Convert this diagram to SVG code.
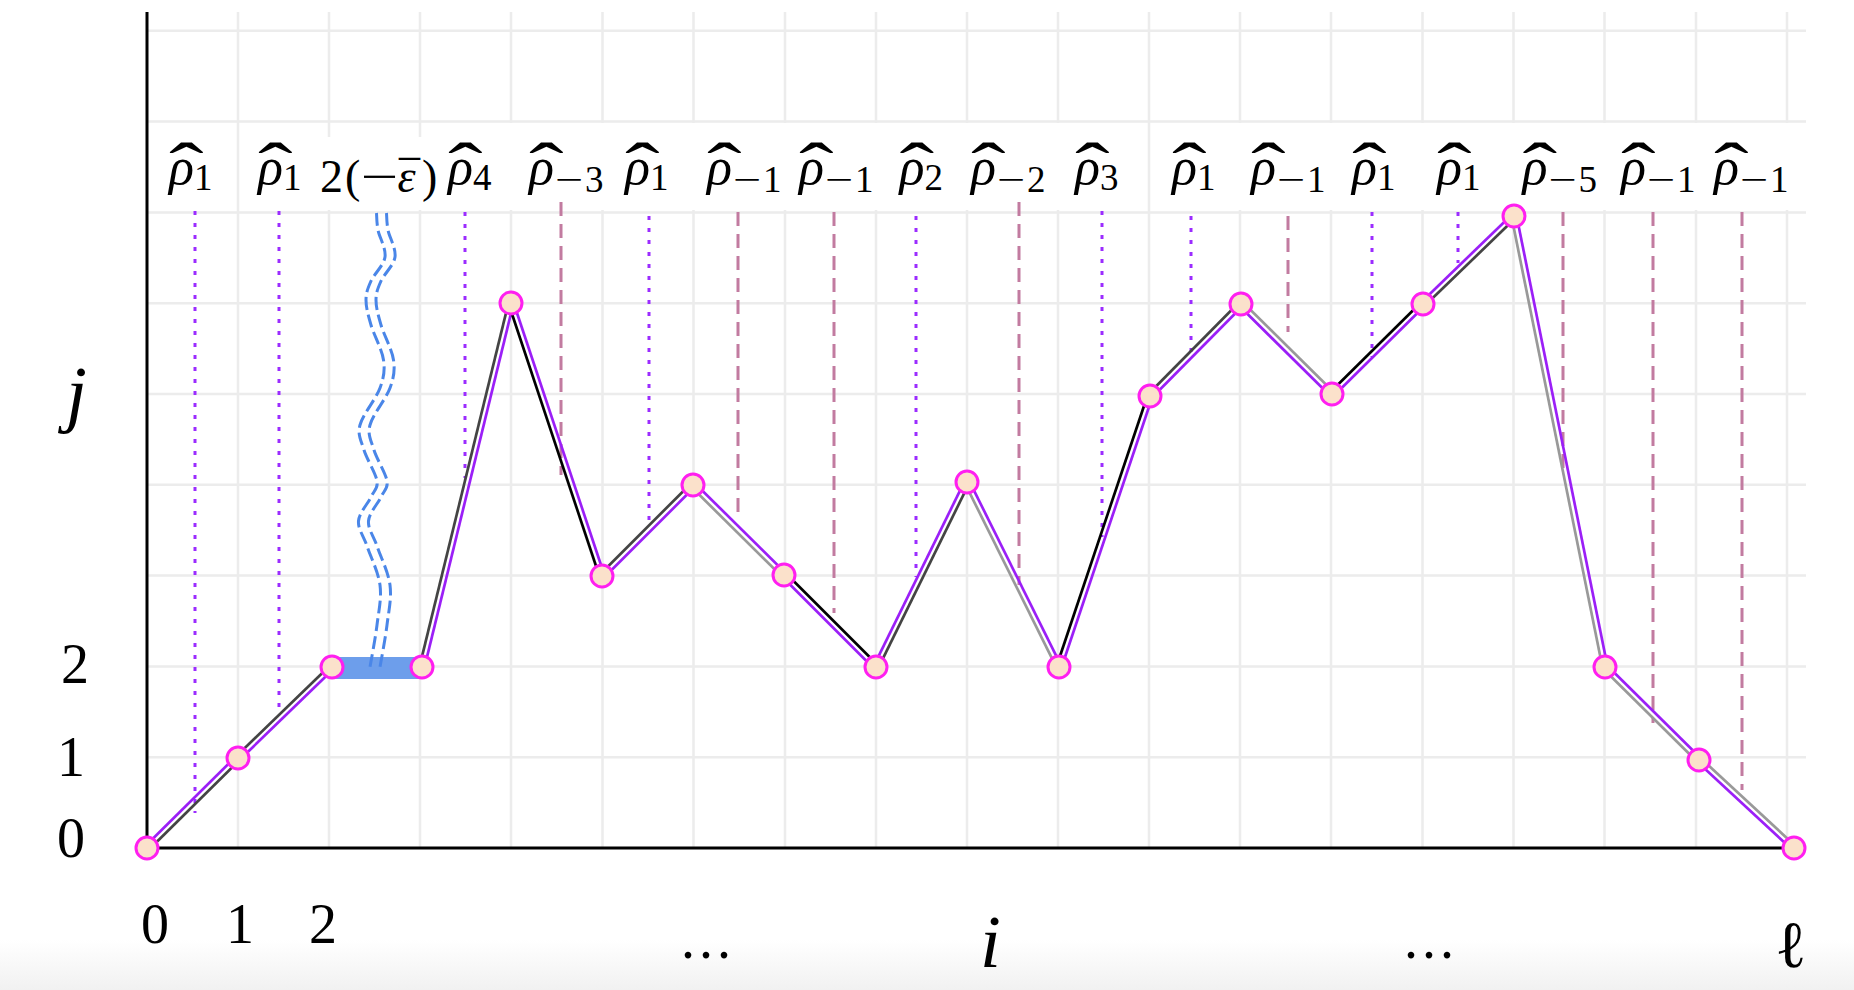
<svg xmlns="http://www.w3.org/2000/svg" width="1854" height="990" viewBox="0 0 1854 990">
<defs>
<style>
.grid{stroke:#ececec;stroke-width:2.5;fill:none}
.axis{stroke:#000;stroke-width:3;fill:none}
.pos{stroke:#9b2cff;stroke-width:3;stroke-dasharray:4 8;fill:none}
.neg{stroke:#c27ba0;stroke-width:3;stroke-dasharray:14 8;fill:none}
.wave{fill:none;stroke:#4a86e8;stroke-width:3;stroke-dasharray:13 5}
.pp{stroke:#9b1ff7;stroke-width:2.7;fill:none}
.dk{stroke:#444;stroke-width:2.7;fill:none}
.bk{stroke:#000;stroke-width:2.7;fill:none}
.gy{stroke:#999;stroke-width:2.7;fill:none}
.node{fill:#fbe1cb;stroke:#ff1ff0;stroke-width:3}
.t{font-family:"Liberation Serif","DejaVu Serif",serif;fill:#000}
.it{font-style:italic}
.rho{font-family:"Liberation Serif","DejaVu Serif",serif;font-style:italic;font-size:52px;fill:#000}
.hat{font-style:normal;font-size:70px}
.sub{font-style:normal;font-size:37px}
.tick{font-family:"Liberation Serif","DejaVu Serif",serif;font-size:56px;fill:#000;text-anchor:middle}
</style>
<linearGradient id="fade" x1="0" y1="0" x2="0" y2="1">
<stop offset="0" stop-color="#ffffff"/>
<stop offset="1" stop-color="#f1f1f1"/>
</linearGradient>
</defs>
<rect x="0" y="0" width="1854" height="990" fill="#fff"/>
<rect x="0" y="940" width="1854" height="50" fill="url(#fade)"/>

<g id="grid">
<path class="grid" d="M147,757.2H1806 M147,666.4H1806 M147,575.6H1806 M147,484.8H1806 M147,394H1806 M147,303.2H1806 M147,212.4H1806 M147,121.6H1806 M147,30.8H1806"/>
<path class="grid" d="M238,12V848 M1149,12V848
M329,12V137 M329,210V848 M420,12V137 M420,210V848
M511,12V123 M511,210V848 M602.5,12V123 M602.5,210V848 M693.5,12V123 M693.5,210V848
M785,12V123 M785,210V848 M876,12V123 M876,210V848 M967,12V123 M967,210V848
M1058,12V123 M1058,210V848 M1240,12V123 M1240,210V848 M1331,12V123 M1331,210V848
M1422.5,12V123 M1422.5,210V848 M1513.5,12V123 M1513.5,210V848 M1604.5,12V123 M1604.5,210V848
M1696,12V123 M1696,210V848 M1787,12V123 M1787,210V848"/>
</g>

<g id="axes">
<line class="axis" x1="147" y1="12" x2="147" y2="849.5"/>
<line class="axis" x1="145.5" y1="848" x2="1794" y2="848"/>
</g>

<g id="guides">
<line class="pos" x1="195" y1="211" x2="195" y2="813"/>
<line class="pos" x1="279" y1="211" x2="279" y2="713"/>
<line class="pos" x1="465" y1="212" x2="465" y2="478"/>
<line class="neg" x1="561" y1="202" x2="561" y2="475"/>
<line class="pos" x1="649" y1="216" x2="649" y2="527"/>
<line class="neg" x1="738" y1="212" x2="738" y2="517"/>
<line class="neg" x1="834" y1="212" x2="834" y2="613"/>
<line class="pos" x1="916" y1="216" x2="916" y2="577"/>
<line class="neg" x1="1019" y1="202" x2="1019" y2="585"/>
<line class="pos" x1="1102" y1="211" x2="1102" y2="537"/>
<line class="pos" x1="1191" y1="216" x2="1191" y2="358"/>
<line class="neg" x1="1288" y1="216" x2="1288" y2="332"/>
<line class="pos" x1="1372" y1="212" x2="1372" y2="357"/>
<line class="pos" x1="1458" y1="212" x2="1458" y2="263"/>
<line class="neg" x1="1563" y1="212" x2="1563" y2="475"/>
<line class="neg" x1="1653" y1="212" x2="1653" y2="723"/>
<line class="neg" x1="1742" y1="212" x2="1742" y2="790"/>
</g>

<g id="connectors">
<rect id="bar-2-3" x="332" y="657" width="90" height="22" fill="#6d9eeb"/>
<g id="wavy">
<path id="wave1" class="wave" d="M376.5,213 C376.75,215.8 376.6,222.7 378,230 C379.4,237.3 386.2,248.5 385,257 C383.8,265.5 374.2,273.8 371,281 C367.8,288.2 366,292.7 366,300 C366,307.3 368.1,315 371,325 C373.9,335 382,349.5 383.5,360 C385,370.5 383.9,377.2 380,388 C376.1,398.8 362.7,414.7 360,425 C357.3,435.3 361.2,440.7 364,450 C366.8,459.3 375.8,473.2 377,481 C378.2,488.8 374.1,490.3 371,497 C367.9,503.7 359.2,512.8 358.5,521 C357.8,529.2 363.4,535.3 367,546 C370.6,556.7 378.3,571.8 380,585 C381.7,598.2 378.7,611.3 377,625 C375.3,638.7 371.2,660 370,667"/>
<path id="wave2" class="wave" transform="translate(10,0)" d="M376.5,213 C376.75,215.8 376.6,222.7 378,230 C379.4,237.3 386.2,248.5 385,257 C383.8,265.5 374.2,273.8 371,281 C367.8,288.2 366,292.7 366,300 C366,307.3 368.1,315 371,325 C373.9,335 382,349.5 383.5,360 C385,370.5 383.9,377.2 380,388 C376.1,398.8 362.7,414.7 360,425 C357.3,435.3 361.2,440.7 364,450 C366.8,459.3 375.8,473.2 377,481 C378.2,488.8 374.1,490.3 371,497 C367.9,503.7 359.2,512.8 358.5,521 C357.8,529.2 363.4,535.3 367,546 C370.6,556.7 378.3,571.8 380,585 C381.7,598.2 378.7,611.3 377,625 C375.3,638.7 371.2,660 370,667"/>
</g>
<line class="dk" x1="148.8" y1="849.8" x2="239.8" y2="759.8"/>
<line class="pp" x1="145.2" y1="846.2" x2="236.2" y2="756.2"/>
<line class="dk" x1="236.3" y1="756.2" x2="330.3" y2="665.2"/>
<line class="pp" x1="239.7" y1="759.8" x2="333.7" y2="668.8"/>
<line class="dk" x1="419.6" y1="666.4" x2="508.6" y2="302.4"/>
<line class="pp" x1="424.4" y1="667.6" x2="513.4" y2="303.6"/>
<line class="bk" x1="508.6" y1="303.8" x2="599.6" y2="576.8"/>
<line class="pp" x1="513.4" y1="302.2" x2="604.4" y2="575.2"/>
<line class="dk" x1="600.2" y1="574.2" x2="691.2" y2="483.2"/>
<line class="pp" x1="603.8" y1="577.8" x2="694.8" y2="486.8"/>
<line class="pp" x1="694.8" y1="483.2" x2="785.8" y2="573.2"/>
<line class="gy" x1="691.2" y1="486.8" x2="782.2" y2="576.8"/>
<line class="bk" x1="785.8" y1="573.2" x2="877.8" y2="665.2"/>
<line class="pp" x1="782.2" y1="576.8" x2="874.2" y2="668.8"/>
<line class="pp" x1="873.8" y1="665.9" x2="964.8" y2="480.9"/>
<line class="dk" x1="878.2" y1="668.1" x2="969.2" y2="483.1"/>
<line class="gy" x1="964.8" y1="483.1" x2="1056.8" y2="668.1"/>
<line class="pp" x1="969.2" y1="480.9" x2="1061.2" y2="665.9"/>
<line class="bk" x1="1056.6" y1="666.2" x2="1147.6" y2="395.2"/>
<line class="pp" x1="1061.4" y1="667.8" x2="1152.4" y2="396.8"/>
<line class="dk" x1="1148.2" y1="394.2" x2="1239.2" y2="302.2"/>
<line class="pp" x1="1151.8" y1="397.8" x2="1242.8" y2="305.8"/>
<line class="gy" x1="1242.8" y1="302.2" x2="1333.8" y2="392.2"/>
<line class="pp" x1="1239.2" y1="305.8" x2="1330.2" y2="395.8"/>
<line class="bk" x1="1330.2" y1="392.2" x2="1421.2" y2="302.2"/>
<line class="pp" x1="1333.8" y1="395.8" x2="1424.8" y2="305.8"/>
<line class="pp" x1="1421.3" y1="302.2" x2="1512.3" y2="214.2"/>
<line class="dk" x1="1424.7" y1="305.8" x2="1515.7" y2="217.8"/>
<line class="gy" x1="1511.5" y1="216.5" x2="1602.5" y2="667.5"/>
<line class="pp" x1="1516.5" y1="215.5" x2="1607.5" y2="666.5"/>
<line class="gy" x1="1603.2" y1="668.8" x2="1697.2" y2="761.8"/>
<line class="pp" x1="1606.8" y1="665.2" x2="1700.8" y2="758.2"/>
<line class="gy" x1="1700.7" y1="758.2" x2="1795.7" y2="846.2"/>
<line class="pp" x1="1697.3" y1="761.8" x2="1792.3" y2="849.8"/>
</g>

<g id="nodes">
<g id="n0"><circle class="node" cx="147" cy="848" r="11"/></g>
<g id="n1"><circle class="node" cx="238" cy="758" r="11"/></g>
<g id="n2"><circle class="node" cx="332" cy="667" r="11"/></g>
<g id="n3"><circle class="node" cx="422" cy="667" r="11"/></g>
<g id="n4"><circle class="node" cx="511" cy="303" r="11"/></g>
<g id="n5"><circle class="node" cx="602" cy="576" r="11"/></g>
<g id="n6"><circle class="node" cx="693" cy="485" r="11"/></g>
<g id="n7"><circle class="node" cx="784" cy="575" r="11"/></g>
<g id="n8"><circle class="node" cx="876" cy="667" r="11"/></g>
<g id="n9"><circle class="node" cx="967" cy="482" r="11"/></g>
<g id="n10"><circle class="node" cx="1059" cy="667" r="11"/></g>
<g id="n11"><circle class="node" cx="1150" cy="396" r="11"/></g>
<g id="n12"><circle class="node" cx="1241" cy="304" r="11"/></g>
<g id="n13"><circle class="node" cx="1332" cy="394" r="11"/></g>
<g id="n14"><circle class="node" cx="1423" cy="304" r="11"/></g>
<g id="n15"><circle class="node" cx="1514" cy="216" r="11"/></g>
<g id="n16"><circle class="node" cx="1605" cy="667" r="11"/></g>
<g id="n17"><circle class="node" cx="1699" cy="760" r="11"/></g>
<g id="n18"><circle class="node" cx="1794" cy="848" r="11"/></g>
</g>

<g id="labels">
<g id="lab1"><text class="rho" x="169" y="184">ρ<tspan class="hat" x="169" y="190.5" textLength="34.7" lengthAdjust="spacingAndGlyphs">ˆ</tspan><tspan class="sub" x="194" y="190">1</tspan></text></g>
<g id="lab2"><text class="rho" x="258" y="184">ρ<tspan class="hat" x="258" y="190.5" textLength="34.7" lengthAdjust="spacingAndGlyphs">ˆ</tspan><tspan class="sub" x="283" y="190">1</tspan></text></g>
<g id="lab3"><text class="t" font-size="46" x="320" y="191.7">2<tspan x="345" y="191.7">(</tspan><tspan x="361" y="191.7" textLength="37.6" lengthAdjust="spacingAndGlyphs">−</tspan><tspan class="it" x="397.5" y="191.7">ε</tspan><tspan x="399" y="193" textLength="21" lengthAdjust="spacingAndGlyphs">¯</tspan><tspan x="422" y="191.7">)</tspan></text></g>
<g id="lab4"><text class="rho" x="448" y="184">ρ<tspan class="hat" x="448" y="190.5" textLength="34.7" lengthAdjust="spacingAndGlyphs">ˆ</tspan><tspan class="sub" x="473" y="190">4</tspan></text></g>
<g id="lab5"><text class="rho" x="529" y="184">ρ<tspan class="hat" x="529" y="190.5" textLength="34.7" lengthAdjust="spacingAndGlyphs">ˆ</tspan><tspan class="sub" x="555" y="192" textLength="28.2" lengthAdjust="spacingAndGlyphs">−</tspan><tspan class="sub" x="585" y="192">3</tspan></text></g>
<g id="lab6"><text class="rho" x="625" y="184">ρ<tspan class="hat" x="625" y="190.5" textLength="34.7" lengthAdjust="spacingAndGlyphs">ˆ</tspan><tspan class="sub" x="650" y="190">1</tspan></text></g>
<g id="lab7"><text class="rho" x="707" y="184">ρ<tspan class="hat" x="707" y="190.5" textLength="34.7" lengthAdjust="spacingAndGlyphs">ˆ</tspan><tspan class="sub" x="733" y="192" textLength="28.2" lengthAdjust="spacingAndGlyphs">−</tspan><tspan class="sub" x="763" y="192">1</tspan></text></g>
<g id="lab8"><text class="rho" x="799" y="184">ρ<tspan class="hat" x="799" y="190.5" textLength="34.7" lengthAdjust="spacingAndGlyphs">ˆ</tspan><tspan class="sub" x="825" y="192" textLength="28.2" lengthAdjust="spacingAndGlyphs">−</tspan><tspan class="sub" x="855" y="192">1</tspan></text></g>
<g id="lab9"><text class="rho" x="899.5" y="184">ρ<tspan class="hat" x="899.5" y="190.5" textLength="34.7" lengthAdjust="spacingAndGlyphs">ˆ</tspan><tspan class="sub" x="924.5" y="190">2</tspan></text></g>
<g id="lab10"><text class="rho" x="971" y="184">ρ<tspan class="hat" x="971" y="190.5" textLength="34.7" lengthAdjust="spacingAndGlyphs">ˆ</tspan><tspan class="sub" x="997" y="192" textLength="28.2" lengthAdjust="spacingAndGlyphs">−</tspan><tspan class="sub" x="1027" y="192">2</tspan></text></g>
<g id="lab11"><text class="rho" x="1075" y="184">ρ<tspan class="hat" x="1075" y="190.5" textLength="34.7" lengthAdjust="spacingAndGlyphs">ˆ</tspan><tspan class="sub" x="1100" y="190">3</tspan></text></g>
<g id="lab12"><text class="rho" x="1172" y="184">ρ<tspan class="hat" x="1172" y="190.5" textLength="34.7" lengthAdjust="spacingAndGlyphs">ˆ</tspan><tspan class="sub" x="1197" y="190">1</tspan></text></g>
<g id="lab13"><text class="rho" x="1251" y="184">ρ<tspan class="hat" x="1251" y="190.5" textLength="34.7" lengthAdjust="spacingAndGlyphs">ˆ</tspan><tspan class="sub" x="1277" y="192" textLength="28.2" lengthAdjust="spacingAndGlyphs">−</tspan><tspan class="sub" x="1307" y="192">1</tspan></text></g>
<g id="lab14"><text class="rho" x="1352" y="184">ρ<tspan class="hat" x="1352" y="190.5" textLength="34.7" lengthAdjust="spacingAndGlyphs">ˆ</tspan><tspan class="sub" x="1377" y="190">1</tspan></text></g>
<g id="lab15"><text class="rho" x="1437" y="184">ρ<tspan class="hat" x="1437" y="190.5" textLength="34.7" lengthAdjust="spacingAndGlyphs">ˆ</tspan><tspan class="sub" x="1462" y="190">1</tspan></text></g>
<g id="lab16"><text class="rho" x="1522.5" y="184">ρ<tspan class="hat" x="1522.5" y="190.5" textLength="34.7" lengthAdjust="spacingAndGlyphs">ˆ</tspan><tspan class="sub" x="1548.5" y="192" textLength="28.2" lengthAdjust="spacingAndGlyphs">−</tspan><tspan class="sub" x="1578.5" y="192">5</tspan></text></g>
<g id="lab17"><text class="rho" x="1621" y="184">ρ<tspan class="hat" x="1621" y="190.5" textLength="34.7" lengthAdjust="spacingAndGlyphs">ˆ</tspan><tspan class="sub" x="1647" y="192" textLength="28.2" lengthAdjust="spacingAndGlyphs">−</tspan><tspan class="sub" x="1677" y="192">1</tspan></text></g>
<g id="lab18"><text class="rho" x="1714" y="184">ρ<tspan class="hat" x="1714" y="190.5" textLength="34.7" lengthAdjust="spacingAndGlyphs">ˆ</tspan><tspan class="sub" x="1740" y="192" textLength="28.2" lengthAdjust="spacingAndGlyphs">−</tspan><tspan class="sub" x="1770" y="192">1</tspan></text></g>
</g>

<g id="axis-labels">
<text class="t it" x="66" y="418" font-size="75">j</text>
<text class="tick" x="75" y="683">2</text>
<text class="tick" x="71" y="776">1</text>
<text class="tick" x="71" y="857">0</text>
<text class="tick" x="155" y="943">0</text>
<text class="tick" x="240" y="943">1</text>
<text class="tick" x="323" y="943">2</text>
<text class="t" x="681" y="958" font-size="56" letter-spacing="4">...</text>
<text class="t it" x="980" y="967" font-size="75">i</text>
<text class="t" x="1404" y="958" font-size="56" letter-spacing="4">...</text>
<text class="t" x="1775" y="967" font-size="66">ℓ</text>
</g>
</svg>
